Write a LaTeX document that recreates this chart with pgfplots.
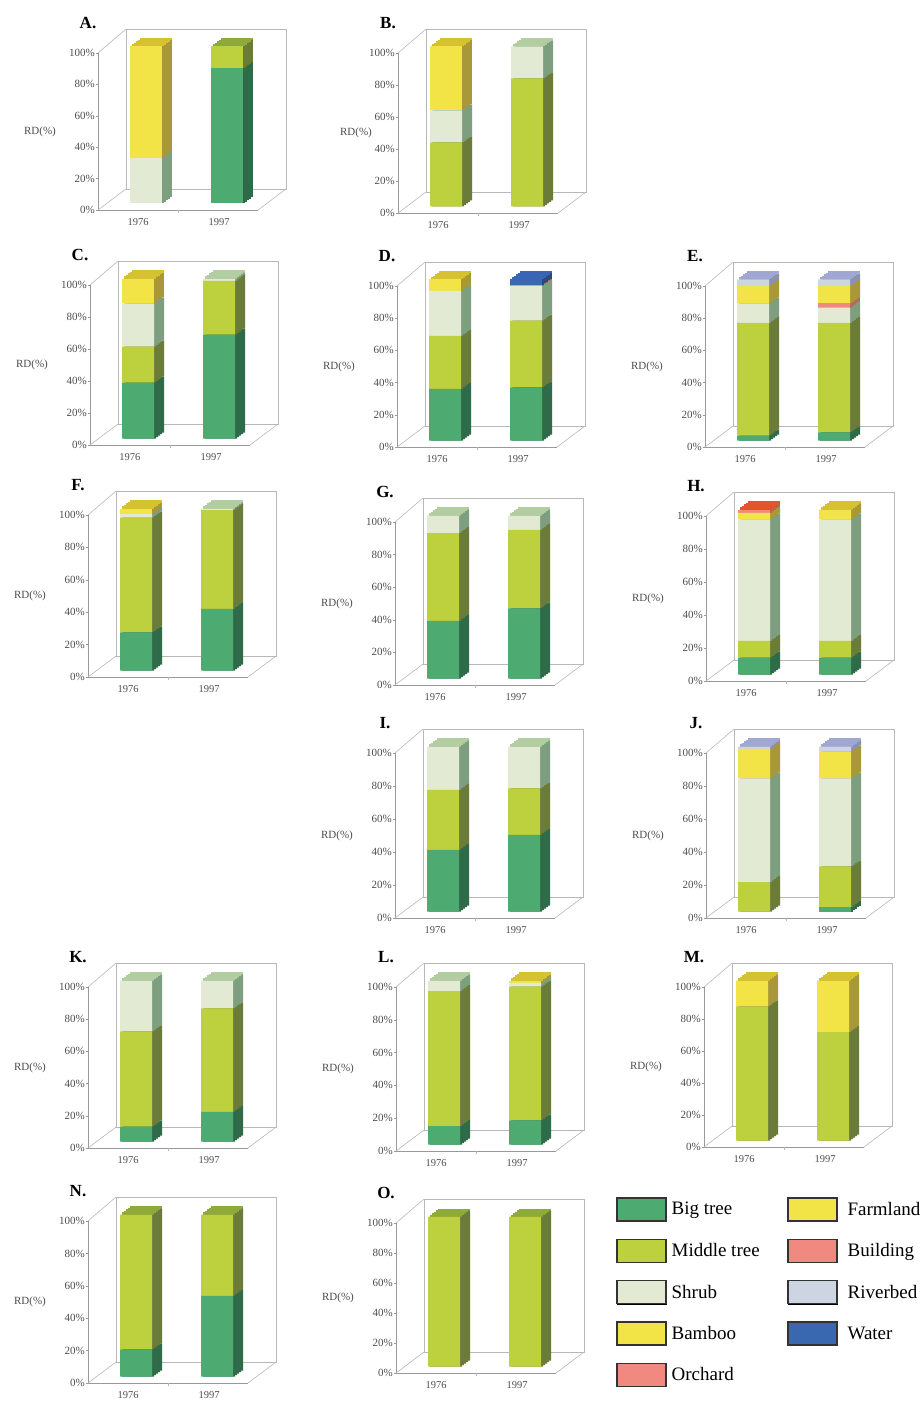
\documentclass[border=0pt]{standalone}
\usepackage{fontspec}
\setmainfont{Liberation Serif}
\usepackage{pgfplots}
\pgfplotsset{compat=1.18}
\usepackage{pgfplotstable}

% categories: 1 Big tree, 2 Middle tree, 3 Shrub, 4 Bamboo, 5 Orchard, 6 Farmland, 7 Building, 8 Riverbed, 9 Water
\definecolor{front1}{HTML}{4DAA70}\definecolor{side1}{HTML}{2F6B49}\definecolor{top1}{HTML}{5DBA7E}
\definecolor{front2}{HTML}{BDD03E}\definecolor{side2}{HTML}{6B7B3A}\definecolor{top2}{HTML}{8EAA3A}
\definecolor{front3}{HTML}{E2EAD3}\definecolor{side3}{HTML}{7E9E80}\definecolor{top3}{HTML}{B2CEA0}
\definecolor{front4}{HTML}{F2E347}\definecolor{side4}{HTML}{A8983A}\definecolor{top4}{HTML}{D6C230}
\definecolor{front5}{HTML}{F08A80}\definecolor{side5}{HTML}{B86A58}\definecolor{top5}{HTML}{E06A48}
\definecolor{front6}{HTML}{F2E347}\definecolor{side6}{HTML}{A8983A}\definecolor{top6}{HTML}{D6C230}
\definecolor{front7}{HTML}{F08A80}\definecolor{side7}{HTML}{C0604A}\definecolor{top7}{HTML}{E2542A}
\definecolor{front8}{HTML}{CDD5E3}\definecolor{side8}{HTML}{8A92B2}\definecolor{top8}{HTML}{9FA7D2}
\definecolor{front9}{HTML}{3A68B0}\definecolor{side9}{HTML}{29497E}\definecolor{top9}{HTML}{3A64B4}

% share (%) of each land-use class; first row 1976 (x=48), second row 1997 (x=129)
\pgfplotstableread{
x c1 c2 c3 c4 c5 c6 c7 c8 c9
48 0 0 29 71 0 0 0 0 0
129 86 14 0 0 0 0 0 0 0
}\tA
\pgfplotstableread{
x c1 c2 c3 c4 c5 c6 c7 c8 c9
48 0 40 20 40 0 0 0 0 0
129 0 80 20 0 0 0 0 0 0
}\tB
\pgfplotstableread{
x c1 c2 c3 c4 c5 c6 c7 c8 c9
48 35 22.5 27 15.5 0 0 0 0 0
129 65 33.5 1.5 0 0 0 0 0 0
}\tC
\pgfplotstableread{
x c1 c2 c3 c4 c5 c6 c7 c8 c9
48 32 33 28 0 0 7 0 0 0
129 33 41.5 21.5 0 0 0 0.8 0 3.2
}\tD
\pgfplotstableread{
x c1 c2 c3 c4 c5 c6 c7 c8 c9
48 3 70 12 0 0 11 0 4 0
129 5 68 9.6 0 2.6 10.8 0 4 0
}\tE
\pgfplotstableread{
x c1 c2 c3 c4 c5 c6 c7 c8 c9
48 23.6 70.7 2.2 3.5 0 0 0 0 0
129 38 61 1 0 0 0 0 0 0
}\tF
\pgfplotstableread{
x c1 c2 c3 c4 c5 c6 c7 c8 c9
48 35.3 53.9 10.8 0 0 0 0 0 0
129 43 48.2 8.8 0 0 0 0 0 0
}\tG
\pgfplotstableread{
x c1 c2 c3 c4 c5 c6 c7 c8 c9
48 10.2 10.2 73.6 0 0 4 2 0 0
129 10.2 10.2 73.6 0 0 6 0 0 0
}\tH
\pgfplotstableread{
x c1 c2 c3 c4 c5 c6 c7 c8 c9
48 37.4 36.3 26.3 0 0 0 0 0 0
129 46.5 28.2 25.3 0 0 0 0 0 0
}\tI
\pgfplotstableread{
x c1 c2 c3 c4 c5 c6 c7 c8 c9
48 0 17.8 62.9 0 0 17.8 0 1.5 0
129 2.6 24.8 53.3 0 0 16.3 0 3 0
}\tJ
\pgfplotstableread{
x c1 c2 c3 c4 c5 c6 c7 c8 c9
48 9.2 59.2 31.6 0 0 0 0 0 0
129 18.4 64.3 17.3 0 0 0 0 0 0
}\tK
\pgfplotstableread{
x c1 c2 c3 c4 c5 c6 c7 c8 c9
48 11.2 82.3 6.5 0 0 0 0 0 0
129 14.7 81.6 2.2 1.5 0 0 0 0 0
}\tL
\pgfplotstableread{
x c1 c2 c3 c4 c5 c6 c7 c8 c9
48 0 83.8 0 0 0 16.2 0 0 0
129 0 67.7 0 0 0 32.3 0 0 0
}\tM
\pgfplotstableread{
x c1 c2 c3 c4 c5 c6 c7 c8 c9
48 16.7 83.3 0 0 0 0 0 0 0
129 49.8 50.2 0 0 0 0 0 0 0
}\tN
\pgfplotstableread{
x c1 c2 c3 c4 c5 c6 c7 c8 c9
48 0 100 0 0 0 0 0 0 0
129 0 100 0 0 0 0 0 0 0
}\tO

\pgfplotsset{
  panel/.style={
    scale only axis, width=160pt, anchor=south west, clip=false,
    xmin=0,xmax=160,ymin=0,ymax=100, enlargelimits=false,
    axis lines*=left, axis line style={draw=black!40,line width=0.6pt},
    xtick={40,121}, xticklabels={1976,1997}, xtick style={draw=none},
    ytick={0,20,40,60,80,100}, yticklabels={0\%,20\%,40\%,60\%,80\%,100\%},
    ytick style={draw=black!40,line width=0.5pt}, tick align=outside, major tick length=2pt,
    tick label style={font=\fontsize{11}{13}\selectfont, text=black!70},
    yticklabel style={inner sep=1pt},
    xticklabel style={yshift=-3pt,font=\fontsize{10.5}{12}\selectfont},
  },
  lay/.style={
    scale only axis, width=160pt, anchor=south west, clip=false, hide axis,
    ybar stacked, bar width=32,
    xmin=0,xmax=160,ymin=0,ymax=100, enlargelimits=false,
  },
}

\newcommand\deco[2]{%
  \draw[fr] ([shift={(28pt,21pt)}]axis cs:0,0) rectangle ([shift={(28pt,24pt)}]axis cs:160,100);
  \draw[fr] (axis cs:0,0) -- ++(28pt,21pt);
  \draw[fr] (axis cs:160,0) -- ++(28pt,21pt);
  \draw[fr] (axis cs:0,100) -- ([shift={(28pt,24pt)}]axis cs:0,100);
  \draw[fr] (axis cs:80,0) -- ++(0,-3pt);
  \node[font=\bfseries\fontsize{17}{17}\selectfont] at ([shift={(-10pt,30pt)}]axis cs:0,100) {#1};
  \node[font=\fontsize{11}{13}\selectfont, text=black!70] at ([shift={(#2pt,0pt)}]axis cs:0,50) {RD(\%)};
}

% one depth layer of the 3D bars: side colours stacked, then a thin top cap
% #1 ox, #2 oy, #3 H, #4 table, #5 classes, #6/#7 top colours, #8 layer index
\newcommand\layer[8]{%
  \pgfmathsetmacro\lx{#1+2*#8}%
  \pgfmathsetmacro\ly{-#2+6.5+1.5*(#8-1)}%
  \begin{axis}[lay, at={(\lx pt,\ly pt)}, height=#3pt]
  \pgfplotsforeachungrouped \kk in {#5}{%
    \edef\tmp{\noexpand\addplot[draw=none,fill=side\kk] table[x=x,y=c\kk]{\noexpand#4};}\tmp}%
  \addplot[draw=none,fill=#6] coordinates {(48,1.3) (129,0)};
  \addplot[draw=none,fill=#7] coordinates {(48,0) (129,1.3)};
  \end{axis}}

\newcommand\frontbars[5]{%
  \pgfmathsetmacro\ly{-#2+6.5}%
  \begin{axis}[lay, at={(#1pt,\ly pt)}, height=#3pt]
  \pgfplotsforeachungrouped \kk in {#5}{%
    \edef\tmp{\noexpand\addplot[draw=none,fill=front\kk] table[x=x,y=c\kk]{\noexpand#4};}\tmp}%
  \end{axis}}

% #1 ox, #2 oy, #3 H, #4 letter, #5 RD label shift, #6 table, #7 classes, #8/#9 top colours
\newcommand\panel[9]{%
  \begin{axis}[panel, at={(#1pt,-#2pt)}, height=#3pt]
  \deco{#4}{#5}
  \addplot[draw=none] coordinates {(0,0)};
  \end{axis}
  \layer{#1}{#2}{#3}{#6}{#7}{#8}{#9}{5}
  \layer{#1}{#2}{#3}{#6}{#7}{#8}{#9}{4}
  \layer{#1}{#2}{#3}{#6}{#7}{#8}{#9}{3}
  \layer{#1}{#2}{#3}{#6}{#7}{#8}{#9}{2}
  \layer{#1}{#2}{#3}{#6}{#7}{#8}{#9}{1}
  \frontbars{#1}{#2}{#3}{#6}{#7}
}

\pgfplotsset{
  legax/.style={anchor=north west, scale only axis, width=1pt, height=1pt,
    hide axis, xmin=0,xmax=1,ymin=0,ymax=1, legend cell align=left,
    legend image code/.code={%
      \fill[##1] (0pt,-11.5pt) rectangle (49pt,11.5pt);
      \draw[draw=black!80,line width=1.4pt] (0pt,-11.5pt) rectangle (49pt,11.5pt);}},
}

\begin{document}
\begin{tikzpicture}[fr/.style={draw=black!28,line width=0.6pt}]
\useasboundingbox (0,0) rectangle (922pt,-1404pt);

\panel{98}{210}{157}{A.}{-58}{\tA}{1,2,3,4}{top4}{top2}
\panel{398}{213}{160}{B.}{-42}{\tB}{2,3,4}{top4}{top3}
\panel{90}{445}{160}{C.}{-58}{\tC}{1,2,3,4}{top4}{top3}
\panel{397}{447}{161}{D.}{-58}{\tD}{1,2,3,6,7,9}{top6}{top9}
\panel{705}{447}{161}{E.}{-58}{\tE}{1,2,3,5,6,8}{top8}{top8}
\panel{88}{677}{162}{F.}{-58}{\tF}{1,2,3,4}{top4}{top3}
\panel{395}{685}{163}{G.}{-58}{\tG}{1,2,3}{top3}{top3}
\panel{706}{681}{165}{H.}{-58}{\tH}{1,2,3,6,7}{top7}{top6}
\panel{395}{918}{165}{I.}{-58}{\tI}{1,2,3}{top3}{top3}
\panel{706}{918}{165}{J.}{-58}{\tJ}{1,2,3,6,8}{top8}{top8}
\panel{88}{1148}{161}{K.}{-58}{\tK}{1,2,3}{top3}{top3}
\panel{396}{1151}{164}{L.}{-58}{\tL}{1,2,3,4}{top3}{top4}
\panel{704}{1147}{160}{M.}{-58}{\tM}{2,6}{top6}{top6}
\panel{88}{1383}{162}{N.}{-58}{\tN}{1,2}{top2}{top2}
\panel{396}{1373}{150}{O.}{-58}{\tO}{2}{top2}{top2}

% legend, column 1
\begin{axis}[legax, at={(616pt,-1197pt)},
  legend style={at={(0,1)}, anchor=north west, draw=none, fill=none, inner sep=0pt,
    row sep=17pt, column sep=3pt, font=\fontsize{19}{20}\selectfont}]
\addlegendimage{fill=front1}\addlegendentry{Big tree}
\addlegendimage{fill=front2}\addlegendentry{Middle tree}
\addlegendimage{fill=front3}\addlegendentry{Shrub}
\addlegendimage{fill=front4}\addlegendentry{Bamboo}
\addlegendimage{fill=front5}\addlegendentry{Orchard}
\end{axis}

% legend, column 2
\begin{axis}[legax, at={(787pt,-1197pt)},
  legend style={at={(0,1)}, anchor=north west, draw=none, fill=none, inner sep=0pt,
    row sep=17pt, column sep=8pt, font=\fontsize{19}{20}\selectfont}]
\addlegendimage{fill=front6}\addlegendentry{Farmland}
\addlegendimage{fill=front7}\addlegendentry{Building}
\addlegendimage{fill=front8}\addlegendentry{Riverbed}
\addlegendimage{fill=front9}\addlegendentry{Water}
\end{axis}

\end{tikzpicture}
\end{document}
